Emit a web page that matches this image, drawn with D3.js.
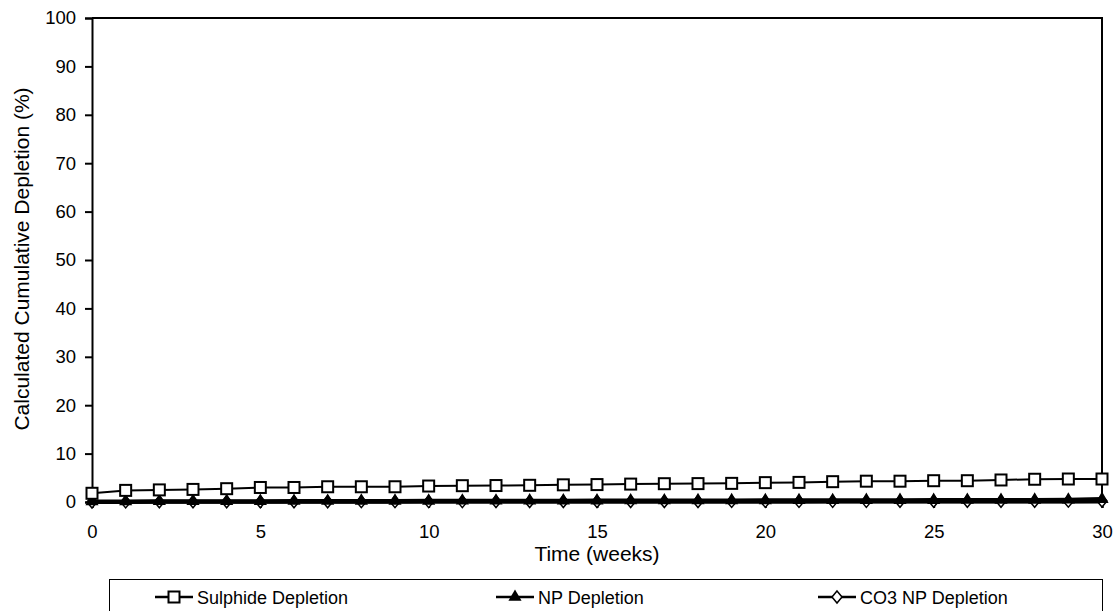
<!DOCTYPE html>
<html>
<head>
<meta charset="utf-8">
<script src="https://cdn.jsdelivr.net/npm/d3@7"></script>
<style>
body { margin: 0; background: #fff; }
svg { font-family: "Liberation Sans", Arial, sans-serif; }
</style>
</head>
<body>
<script>
"use strict";
const weeks = d3.range(0, 31);
const sulphide = [1.8, 2.4, 2.5, 2.6, 2.75, 3.0, 3.0, 3.15, 3.15, 3.15, 3.3, 3.37, 3.4, 3.45, 3.55, 3.6, 3.7, 3.78, 3.8, 3.85, 4.0, 4.05, 4.2, 4.3, 4.3, 4.4, 4.4, 4.55, 4.7, 4.75, 4.75];
const np = [0.1, 0.12, 0.14, 0.15, 0.17, 0.18, 0.2, 0.21, 0.22, 0.23, 0.24, 0.25, 0.26, 0.27, 0.28, 0.29, 0.3, 0.31, 0.32, 0.33, 0.34, 0.35, 0.36, 0.37, 0.38, 0.39, 0.4, 0.41, 0.43, 0.45, 0.6];
const co3 = [0, 0.02, 0.03, 0.04, 0.05, 0.05, 0.06, 0.06, 0.07, 0.07, 0.08, 0.08, 0.09, 0.09, 0.1, 0.1, 0.1, 0.11, 0.11, 0.12, 0.12, 0.12, 0.13, 0.13, 0.14, 0.14, 0.15, 0.15, 0.16, 0.17, 0.2];
const yTicks = d3.range(0, 101, 10);
const xTicks = d3.range(0, 31, 5);
const names = ["Sulphide Depletion", "NP Depletion", "CO3 NP Depletion"];

const w = 1115, h = 611;
const x0 = 92, x1 = 1102, y0 = 502, y1 = 18;
const svg = d3.select("body").append("svg").attr("width", w).attr("height", h);
const x = d3.scaleLinear().domain([0, 30]).range([x0, x1]);
const y = d3.scaleLinear().domain([0, 100]).range([y0, y1]);

// frame top/right
svg.append("path").attr("d", `M${x0},${y1}H${x1}V${y0}`).attr("fill", "none").attr("stroke", "#000").attr("stroke-width", 2);

const yAxis = svg.append("g").attr("transform", `translate(${x0},0)`)
	.call(d3.axisLeft(y).tickValues(yTicks).tickSize(7).tickPadding(9));
const xAxis = svg.append("g").attr("transform", `translate(0,${y0})`)
	.call(d3.axisBottom(x).tickValues(xTicks).tickSize(6).tickPadding(17));
[yAxis, xAxis].forEach(g => {
	g.select(".domain").attr("stroke-width", 2);
	g.selectAll(".tick line").attr("stroke-width", 2);
	g.selectAll("text").attr("font-size", 18.5).attr("fill", "#000").attr("font-family", "Liberation Sans, Arial, sans-serif");
});

svg.append("text").attr("transform", `translate(29,${259}) rotate(-90)`)
	.attr("text-anchor", "middle").attr("font-size", 21).text("Calculated Cumulative Depletion (%)");
svg.append("text").attr("x", 597).attr("y", 561)
	.attr("text-anchor", "middle").attr("font-size", 21).text("Time (weeks)");

const line = d3.line().x((d, i) => x(weeks[i])).y(d => y(d));
const sym = {
	square: (g, px, py) => g.append("rect").attr("x", px - 5.5).attr("y", py - 5.5).attr("width", 11).attr("height", 11).attr("fill", "#fff").attr("stroke", "#000").attr("stroke-width", 2),
	tri: (g, px, py) => g.append("path").attr("d", d3.symbol(d3.symbolTriangle, 75)()).attr("transform", `translate(${px},${py})`).attr("fill", "#000"),
	diamond: (g, px, py) => g.append("path").attr("d", `M${px},${py - 6}L${px + 5},${py}L${px},${py + 6}L${px - 5},${py}Z`).attr("fill", "#fff").attr("stroke", "#000").attr("stroke-width", 1.5)
};
const series = [
	{ data: sulphide, s: "square", lw: 2 },
	{ data: np, s: "tri", lw: 4 },
	{ data: co3, s: "diamond", lw: 4 }
];
series.slice().reverse().forEach(se => {
	svg.append("path").datum(se.data).attr("d", line).attr("fill", "none").attr("stroke", "#000").attr("stroke-width", se.lw);
	const g = svg.append("g");
	se.data.forEach((v, i) => sym[se.s](g, x(weeks[i]), y(v)));
});

// legend
svg.append("rect").attr("x", 109.5).attr("y", 579.5).attr("width", 993).attr("height", 50).attr("fill", "#fff").attr("stroke", "#000").attr("stroke-width", 1);
const lx = [155, 496, 818];
series.forEach((se, i) => {
	const g = svg.append("g");
	g.append("line").attr("x1", lx[i]).attr("x2", lx[i] + 38).attr("y1", 597).attr("y2", 597).attr("stroke", "#000").attr("stroke-width", 2.5);
	sym[se.s](g, lx[i] + 19, 597);
	g.append("text").attr("x", lx[i] + 42).attr("y", 603.5).attr("font-size", 18).text(names[i]);
});
</script>
</body>
</html>
